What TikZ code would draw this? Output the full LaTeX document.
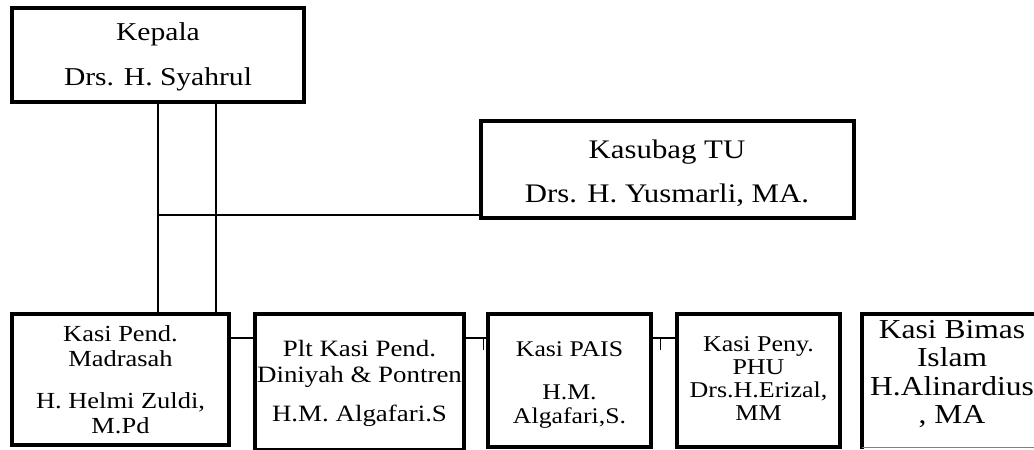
\documentclass[tikz,border=0pt]{standalone}
\usepackage{fontspec}
\setmainfont{Liberation Serif}
\newfontfamily\wfont{Liberation Serif}[FakeStretch=1.15]
\begin{document}
\begin{tikzpicture}[x=1pt,y=-1pt,
  box/.style={draw, line width=4pt, inner sep=0pt, outer sep=0pt, anchor=north west},
  conn/.style={draw, line width=1.6pt},
  txt/.style={anchor=base, inner sep=0pt, outer sep=0pt, font=\wfont}]
\useasboundingbox (0,0) rectangle (1034,450);
\begin{scope}
\clip (0,0) rectangle (1034,450);
% boxes
\node[box, minimum width=292pt, minimum height=94pt] (kep) at (12,8) {};
\node[box, minimum width=373pt, minimum height=97pt] (tu) at (481,121) {};
\node[box, minimum width=217pt, minimum height=131pt] (b1) at (12,314) {};
\node[box, minimum width=209pt, minimum height=136pt] (b2) at (255,314) {};
\node[box, minimum width=163pt, minimum height=133pt] (b3) at (488,314) {};
\node[box, minimum width=163pt, minimum height=133pt] (b4) at (677,314) {};
\node[box, draw=none, minimum width=188pt, minimum height=133pt] (b5) at (862,314) {};
\draw[line width=4pt, line cap=rect] (b5.south west) -- (b5.north west) -- (b5.north east);
\draw[line width=0.9pt, gray] (b5.south west) -- (b5.south east);
% connectors
\coordinate (v1) at (158,0);
\coordinate (v2) at (216,0);
\coordinate (h1) at (0,215);
\coordinate (hb) at (0,338);
\coordinate (tk1) at (483,338);
\coordinate (tk2) at (660,338);
\draw[conn] (v1 |- kep.south) -- (v1 |- b1.north);
\draw[conn] (v2 |- kep.south) -- (v2 |- b1.north);
\draw[conn] (v1 |- h1) -- (tu.west |- h1);
\draw[conn] (b1.east |- hb) -- (b2.west |- hb);
\draw[conn] (b2.east |- hb) -- (b3.west |- hb);
\draw[conn] (b3.east |- hb) -- (b4.west |- hb);
\draw[line width=1pt] (tk1) -- ++(0,12);
\draw[line width=1pt] (tk2) -- ++(0,12);
\draw[line width=3pt] (b4.east |- hb) -- ++(0,12);
% texts
\node[txt] (kept) at (158,40) {\parbox[t]{290pt}{\centering\fontsize{25.7}{45}\selectfont Kepala\\Drs. H. Syahrul}};
\node[txt] (tut) at (667,158) {\parbox[t]{370pt}{\centering\fontsize{26.8}{44}\selectfont Kasubag TU\\Drs. H. Yusmarli, MA.}};
\node[txt] (b1t) at (120.5,341) {\parbox[t]{300pt}{\centering\fontsize{23}{25}\selectfont Kasi Pend.\\Madrasah\\[17pt]H. Helmi Zuldi,\\M.Pd}};
\node[txt] (b2t) at (359.5,356) {\parbox[t]{300pt}{\centering\fontsize{23.4}{26}\selectfont Plt Kasi Pend.\\Diniyah \& Pontren\\[13pt]H.M. Algafari.S}};
\node[txt] (b3t) at (569.5,356) {\parbox[t]{300pt}{\centering\fontsize{22.4}{24}\selectfont Kasi PAIS\\[19pt]H.M.\\Algafari,S.}};
\node[txt] (b4t) at (758.5,351) {\parbox[t]{300pt}{\centering\fontsize{22.6}{23.3}\selectfont Kasi Peny.\\PHU\\Drs.H.Erizal,\\MM}};
\node[txt] (b5t) at (952,338) {\parbox[t]{300pt}{\centering\fontsize{27.4}{28.5}\selectfont Kasi Bimas\\Islam\\H.Alinardius\\, MA}};
\end{scope}
\end{tikzpicture}
\end{document}
